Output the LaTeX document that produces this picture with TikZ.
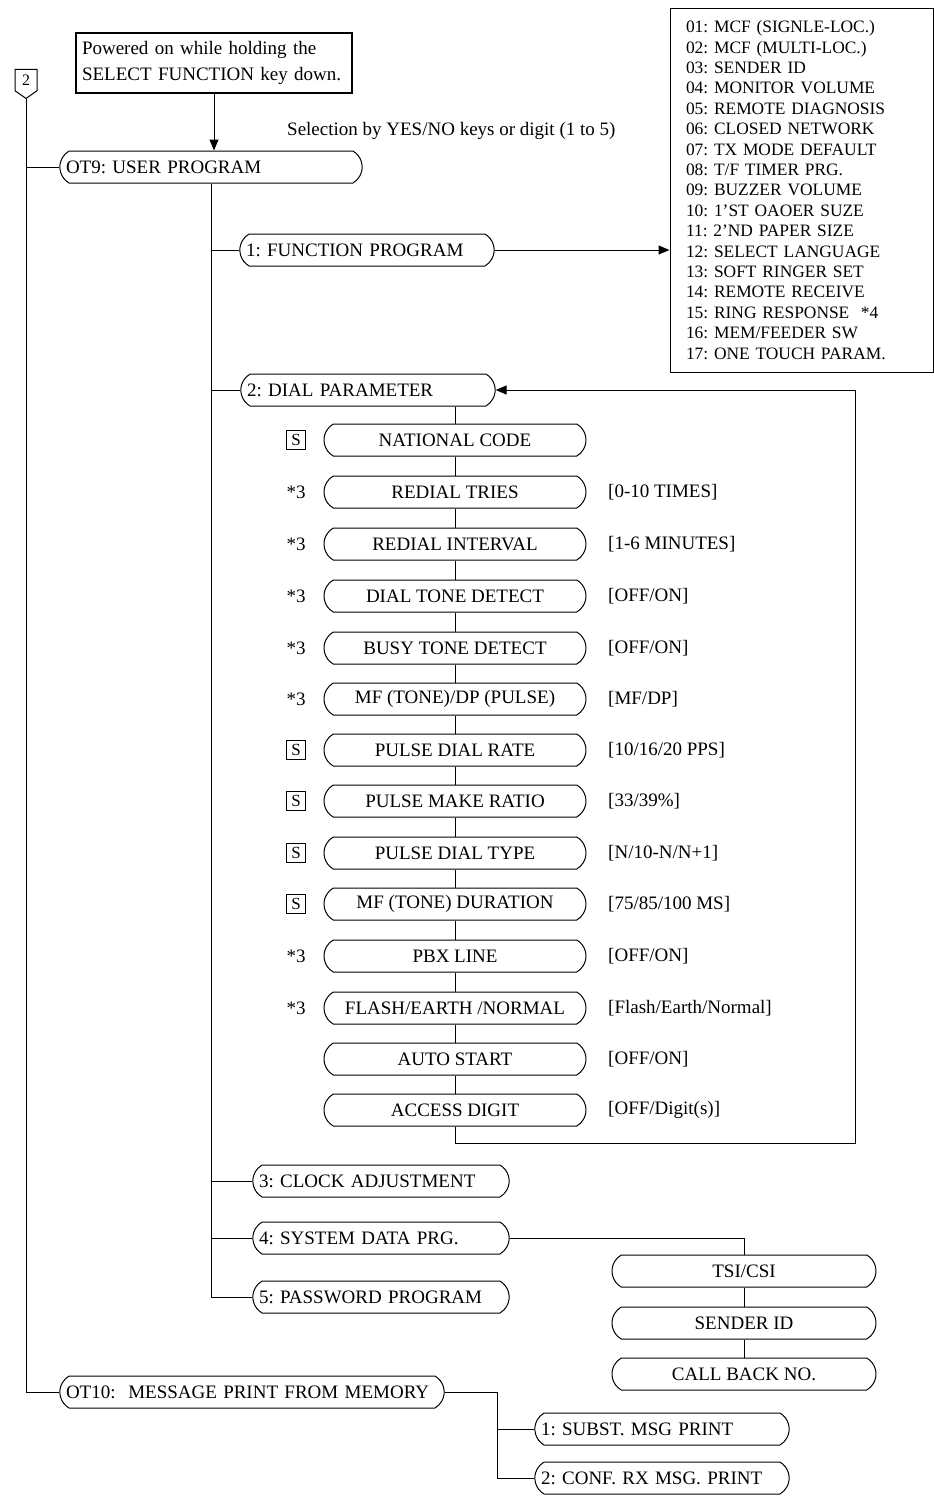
\documentclass[tikz,border=0pt]{standalone}
\usepackage{fontspec}
\setmainfont{Liberation Serif}
\usetikzlibrary{arrows.meta,positioning,shapes.misc,shapes.symbols}

\newcommand{\bodyfont}{\fontsize{19}{22}\selectfont}
\newcommand{\listfont}{\fontsize{17.4}{20.4}\selectfont}

\tikzset{
  wire/.style={line width=1pt},
  tip/.style={-{Triangle[length=11,width=9]}},
  pill/.style={draw, line width=1pt, rounded rectangle, rounded rectangle arc length=120,
    minimum height=32, minimum width=272, inner xsep=5, inner ysep=2, font=\bodyfont},
  lpill/.style={pill, minimum width=0, text width=#1, align=left},
  startbox/.style={draw, line width=1.8pt, text width=264, inner xsep=6, align=left,
    minimum height=60, font=\fontsize{19}{26}\selectfont},
  listbox/.style={draw, line width=1pt, text width=231, inner xsep=16, align=left,
    minimum height=364, font=\listfont},
  tagbox/.style={draw, line width=1pt, signal, signal to=south, signal pointer angle=110,
    minimum width=22, minimum height=25, inner sep=1, font=\fontsize{16}{18}\selectfont},
  skey/.style={draw, line width=1pt, minimum size=19, inner sep=0, font=\fontsize{17}{18}\selectfont},
  note/.style={anchor=west, inner sep=0, font=\bodyfont}
}

\frenchspacing

\begin{document}
\begin{tikzpicture}[x=1pt, y=-1pt]
  \useasboundingbox (0,0) rectangle (934,1500);

  % Start and top level
  \node[tagbox] (tag) at (26,80) {2};
  \node[startbox] (start) at (214,63) {Powered on while holding the\\SELECT FUNCTION key down.};
  \node[lpill=290] (ot9) at (211,167) {OT9: USER PROGRAM};
  \node[note] (sel) at (287,131) {Selection by YES/NO keys or digit (1 to 5)};
  \node[lpill=372] (ot10) at (252,1392) {OT10:\ \ MESSAGE PRINT FROM MEMORY};

  \draw[wire, tip] (start.south) -- (start.south |- ot9.north);
  \draw[wire] (tag.south) |- (ot10.west);
  \draw[wire] (tag.south |- ot9.west) -- (ot9.west);

  % User program menu
  \node[lpill=242] (f1) at (367,250) {1: FUNCTION PROGRAM};
  \node[lpill=242] (dial) at (368,390) {2: DIAL PARAMETER};
  \node[lpill=244] (clock) at (381,1181) {3: CLOCK ADJUSTMENT};
  \node[lpill=244] (sysdata) at (381,1238) {4: SYSTEM DATA PRG.};
  \node[lpill=244] (pass) at (381,1297) {5: PASSWORD PROGRAM};

  \draw[wire] (ot9.south) |- (pass.west);
  \draw[wire] (ot9.south |- f1.west) -- (f1.west);
  \draw[wire] (ot9.south |- dial.west) -- (dial.west);
  \draw[wire] (ot9.south |- clock.west) -- (clock.west);
  \draw[wire] (ot9.south |- sysdata.west) -- (sysdata.west);

  % Function list
  \node[listbox] (flist) at (801.5,190) {01: MCF (SIGNLE-LOC.)\\02: MCF (MULTI-LOC.)\\03: SENDER ID\\
    04: MONITOR VOLUME\\05: REMOTE DIAGNOSIS\\06: CLOSED NETWORK\\07: TX MODE DEFAULT\\
    08: T/F TIMER PRG.\\09: BUZZER VOLUME\\10: 1'ST OAOER SUZE\\11: 2'ND PAPER SIZE\\
    12: SELECT LANGUAGE\\13: SOFT RINGER SET\\14: REMOTE RECEIVE\\15: RING RESPONSE\ \ *4\\
    16: MEM/FEEDER SW\\17: ONE TOUCH PARAM.};
  \draw[wire, tip] (f1.east) -- (f1.east -| flist.west);

  % Dial parameters
  \node[pill] (nat) at (455,440) {NATIONAL CODE};
  \node[pill] (rtries) at (455,492) {REDIAL TRIES};
  \node[pill] (rint) at (455,544) {REDIAL INTERVAL};
  \node[pill] (dtone) at (455,596) {DIAL TONE DETECT};
  \node[pill] (btone) at (455,648) {BUSY TONE DETECT};
  \node[pill] (mfdp) at (455,699) {MF (TONE)/DP (PULSE)};
  \node[pill] (prate) at (455,750) {PULSE DIAL RATE};
  \node[pill] (pratio) at (455,801) {PULSE MAKE RATIO};
  \node[pill] (ptype) at (455,853) {PULSE DIAL TYPE};
  \node[pill] (mfdur) at (455,904) {MF (TONE) DURATION};
  \node[pill] (pbx) at (455,956) {PBX LINE};
  \node[pill] (flash) at (455,1008) {FLASH/EARTH /NORMAL};
  \node[pill] (astart) at (455,1059) {AUTO START};
  \node[pill] (acc) at (455,1110) {ACCESS DIGIT};

  \node[skey] (natk) at (296,440) {S};
  \node[note, anchor=center] (rtriesk) at (296,492) {*3};
  \node[note, anchor=center] (rintk) at (296,544) {*3};
  \node[note, anchor=center] (dtonek) at (296,596) {*3};
  \node[note, anchor=center] (btonek) at (296,648) {*3};
  \node[note, anchor=center] (mfdpk) at (296,699) {*3};
  \node[skey] (pratek) at (296,750) {S};
  \node[skey] (pratiok) at (296,801) {S};
  \node[skey] (ptypek) at (296,853) {S};
  \node[skey] (mfdurk) at (296,904) {S};
  \node[note, anchor=center] (pbxk) at (296,956) {*3};
  \node[note, anchor=center] (flashk) at (296,1008) {*3};

  \node[note] (rtriesv) at (608,492) {[0-10 TIMES]};
  \node[note] (rintv) at (608,544) {[1-6 MINUTES]};
  \node[note] (dtonev) at (608,596) {[OFF/ON]};
  \node[note] (btonev) at (608,648) {[OFF/ON]};
  \node[note] (mfdpv) at (608,699) {[MF/DP]};
  \node[note] (pratev) at (608,750) {[10/16/20 PPS]};
  \node[note] (pratiov) at (608,801) {[33/39\%]};
  \node[note] (ptypev) at (608,853) {[N/10-N/N+1]};
  \node[note] (mfdurv) at (608,904) {[75/85/100 MS]};
  \node[note] (pbxv) at (608,956) {[OFF/ON]};
  \node[note] (flashv) at (608,1008) {[Flash/Earth/Normal]};
  \node[note] (astartv) at (608,1059) {[OFF/ON]};
  \node[note] (accv) at (608,1110) {[OFF/Digit(s)]};

  \draw[wire] (dial.south -| nat.north) -- (nat.north);
  \draw[wire] (nat.south) -- (rtries.north);
  \draw[wire] (rtries.south) -- (rint.north);
  \draw[wire] (rint.south) -- (dtone.north);
  \draw[wire] (dtone.south) -- (btone.north);
  \draw[wire] (btone.south) -- (mfdp.north);
  \draw[wire] (mfdp.south) -- (prate.north);
  \draw[wire] (prate.south) -- (pratio.north);
  \draw[wire] (pratio.south) -- (ptype.north);
  \draw[wire] (ptype.south) -- (mfdur.north);
  \draw[wire] (mfdur.south) -- (pbx.north);
  \draw[wire] (pbx.south) -- (flash.north);
  \draw[wire] (flash.south) -- (astart.north);
  \draw[wire] (astart.south) -- (acc.north);

  % Back to dial parameter
  \coordinate (loop) at (855,1143);
  \draw[wire, tip] (acc.south) |- (loop) |- (dial.east);

  % System data
  \node[pill, minimum width=274] (tsi) at (744,1271) {TSI/CSI};
  \node[pill, minimum width=274] (sender) at (744,1323) {SENDER ID};
  \node[pill, minimum width=274] (callback) at (744,1374) {CALL BACK NO.};
  \draw[wire] (sysdata.east) -| (tsi.north);
  \draw[wire] (tsi.south) -- (sender.north);
  \draw[wire] (sender.south) -- (callback.north);

  % Message print
  \node[lpill=242] (subst) at (662,1429) {1: SUBST. MSG PRINT};
  \node[lpill=242] (conf) at (662,1478) {2: CONF. RX MSG. PRINT};
  \coordinate (ot10j) at (497,1392);
  \draw[wire] (ot10.east) -- (ot10j) |- (conf.west);
  \draw[wire] (ot10j |- subst.west) -- (subst.west);
\end{tikzpicture}
\end{document}
